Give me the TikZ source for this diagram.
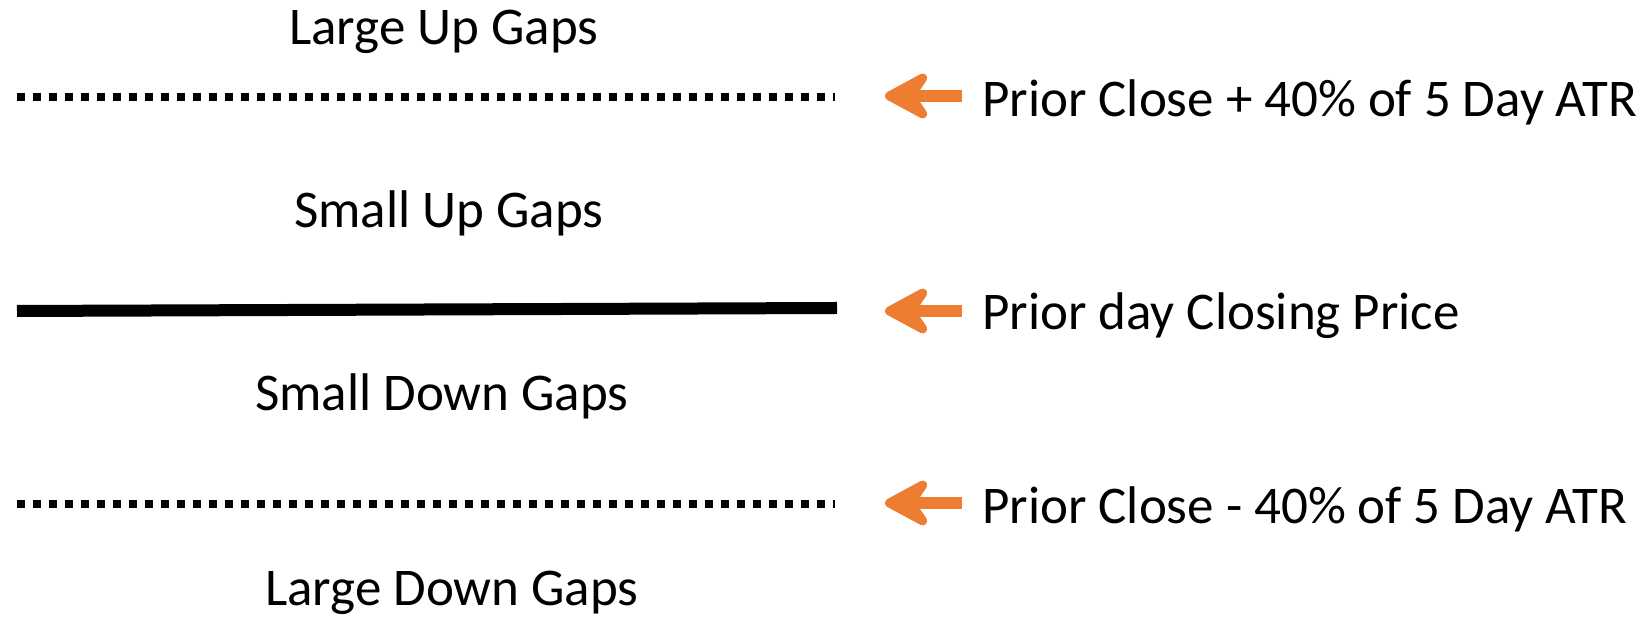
\documentclass[tikz,border=0pt]{standalone}
\usepackage{fontspec}
\setmainfont{Carlito}
\usepackage{xcolor}
\usepackage{tikz}
\usetikzlibrary{positioning,calc,arrows.meta}

\definecolor{arrorange}{HTML}{ED7D31}

\begin{document}
\begin{tikzpicture}[x=1pt,y=1pt,
    gaptext/.style={anchor=base west, inner sep=0pt, font=\fontsize{53}{60}\selectfont},
    levelline/.style={line width=8pt, dash pattern=on 8pt off 8pt},
    closeline/.style={line width=12pt},
    pointer/.style={draw=arrorange, line width=12pt, -{Stealth[length=56pt,width=60pt,inset=20pt,round]}}]
    \useasboundingbox (0,0) rectangle (1647,617);
    % gap zones
    \foreach \y/\name/\x/\txt in {572/largeup/289/Large Up Gaps, 389/smallup/294/Small Up Gaps, 206/smalldown/255/Small Down Gaps, 11/largedown/265/Large Down Gaps}
        \node[gaptext] (\name) at (\x,\y) {\txt};
    % levels
    \coordinate (upL) at (17,520);
    \coordinate (upR) at (835,520);
    \coordinate (closeL) at (17,306);
    \coordinate (closeR) at (837,309);
    \coordinate (downL) at (17,113);
    \coordinate (downR) at (835,113);
    \draw[levelline] (upL) -- (upR);
    \draw[closeline] (closeL) -- (closeR);
    \draw[levelline] (downL) -- (downR);
    % labels and pointers
    \foreach \y/\tip/\name/\txt in {500/521/upLabel/Prior Close + 40\% of 5 Day ATR, 287/306/closeLabel/Prior day Closing Price, 93/114/downLabel/Prior Close - 40\% of 5 Day ATR}{
        \node[gaptext] (\name) at (982,\y) {\txt};
        \coordinate (\name Tip) at (885,\tip);
        \draw[pointer] ($(\name.west |- \name Tip)+(-20,0)$) -- (\name Tip);
    }
\end{tikzpicture}
\end{document}
